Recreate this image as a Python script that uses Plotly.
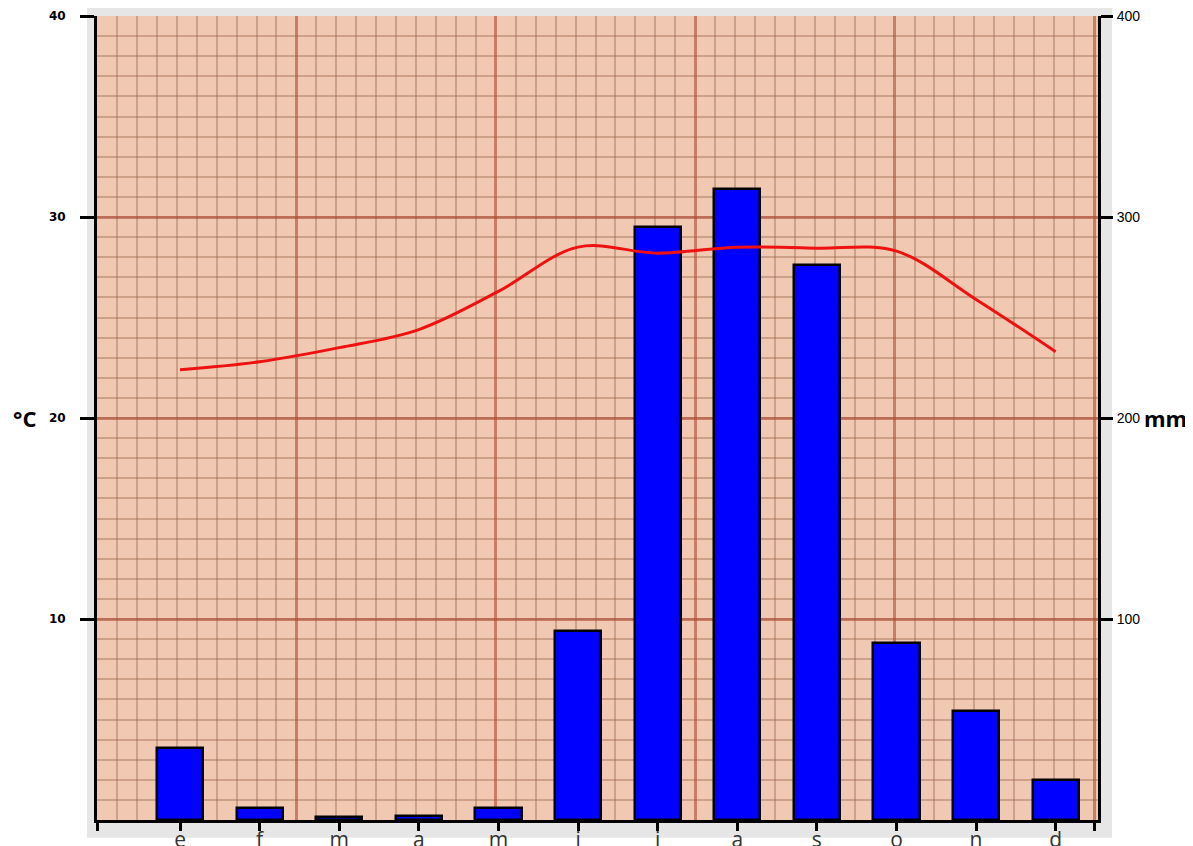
import plotly.graph_objects as go

months = ["e", "f", "m", "a", "m", "j", "j", "a", "s", "o", "n", "d"]
rain_mm = [36, 6, 1.5, 2, 6, 94, 295, 314, 276, 88, 54, 20]
temp_c = [22.4, 22.8, 23.5, 24.4, 26.3, 28.5, 28.2, 28.5, 28.45, 28.3, 25.9, 23.3]

temp_ticks = [10, 20, 30, 40]
rain_ticks = [100, 200, 300, 400]

x_pos = list(range(len(months)))
x_range = [-1.043, 11.532]

fig = go.Figure()

# rain bars on the main (mm, right side) axis
fig.add_trace(go.Bar(
    x=x_pos, y=rain_mm,
    width=0.58,
    marker=dict(color="#0000ff", line=dict(color="black", width=2.5)),
    xaxis="x", yaxis="y",
    showlegend=False,
))

# helper trace so the vertical graph-paper axis gets drawn
fig.add_trace(go.Scatter(
    x=[0], y=[0], mode="markers", marker=dict(opacity=0),
    xaxis="x2", yaxis="y", hoverinfo="skip", showlegend=False,
))

# temperature line on the overlay (°C, left side) axis, drawn above bars
fig.add_trace(go.Scatter(
    x=x_pos, y=temp_c,
    mode="lines",
    line=dict(color="#ee1111", width=3, shape="spline"),
    xaxis="x", yaxis="y2",
    showlegend=False,
))

major_grid = "rgba(175,75,55,0.6)"
minor_grid = "rgba(140,90,60,0.36)"

# the page body adds an 8px offset, so the figure is a bit smaller than the window
fig.update_layout(
    width=1185, height=838,
    margin=dict(l=89, r=95, t=8, b=26, autoexpand=False),
    paper_bgcolor="white",
    plot_bgcolor="#f1c9b2",
    font=dict(family="Liberation Sans, Arial", color="black"),
    bargap=0,
    xaxis=dict(
        range=x_range, automargin=False,
        tickmode="array",
        tickvals=[x_range[0]] + x_pos + [x_range[1] - 0.04],
        ticktext=[""] + months + [""],
        ticks="outside", ticklen=8, tickwidth=3, tickcolor="black",
        tickfont=dict(size=21, color="#333333", family="Open Sans"),
        ticklabelstandoff=-9, ticklabeloverflow="allow",
        showline=True, linecolor="black", linewidth=3,
        showgrid=False, zeroline=False,
    ),
    xaxis2=dict(
        overlaying="x", automargin=False,
        range=[0, 50.2],
        showticklabels=False, ticks="",
        showgrid=True, gridcolor=major_grid, gridwidth=2.5, dtick=10, tick0=0,
        minor=dict(showgrid=True, gridcolor=minor_grid, gridwidth=1.5, dtick=1),
        zeroline=False, showline=False,
    ),
    yaxis=dict(
        side="right", automargin=False,
        range=[0, 400],
        tickmode="array", tickvals=rain_ticks,
        ticks="outside", ticklen=12, tickwidth=3, tickcolor="black",
        tickfont=dict(size=14, family="Liberation Sans"),
        ticklabelstandoff=1, ticklabeloverflow="allow",
        showline=True, linecolor="black", linewidth=3,
        showgrid=True, gridcolor=major_grid, gridwidth=2.5,
        minor=dict(showgrid=True, gridcolor=minor_grid, gridwidth=1.5, dtick=10),
        zeroline=False,
    ),
    yaxis2=dict(
        overlaying="y", side="left", automargin=False,
        range=[0, 40],
        tickmode="array", tickvals=temp_ticks,
        ticks="outside", ticklen=14, tickwidth=3, tickcolor="black",
        tickfont=dict(size=12, family="DejaVu Sans", weight="bold"),
        ticklabelstandoff=12, ticklabeloverflow="allow",
        showline=True, linecolor="black", linewidth=3,
        showgrid=False, zeroline=False,
    ),
    shapes=[
        # grey frame around the graph paper
        dict(type="rect", xref="paper", yref="paper", layer="below",
             x0=-0.010, x1=1.014, y0=-0.022, y1=1.014,
             fillcolor="#e6e6e6", line=dict(width=0)),
        # graph paper
        dict(type="rect", xref="x domain", yref="y domain", layer="below",
             x0=0, x1=1, y0=0, y1=1,
             fillcolor="#f1c9b2", line=dict(width=0)),
    ],
    annotations=[
        dict(text="<b>°C</b>", xref="paper", yref="paper", x=-0.072, y=0.5,
             xanchor="center", showarrow=False,
             font=dict(size=22, family="Open Sans")),
        dict(text="<b>mm</b>", xref="paper", yref="paper", x=1.067, y=0.5,
             xanchor="center", showarrow=False,
             font=dict(size=22, family="Open Sans")),
    ],
)

fig.write_html("out.html")
